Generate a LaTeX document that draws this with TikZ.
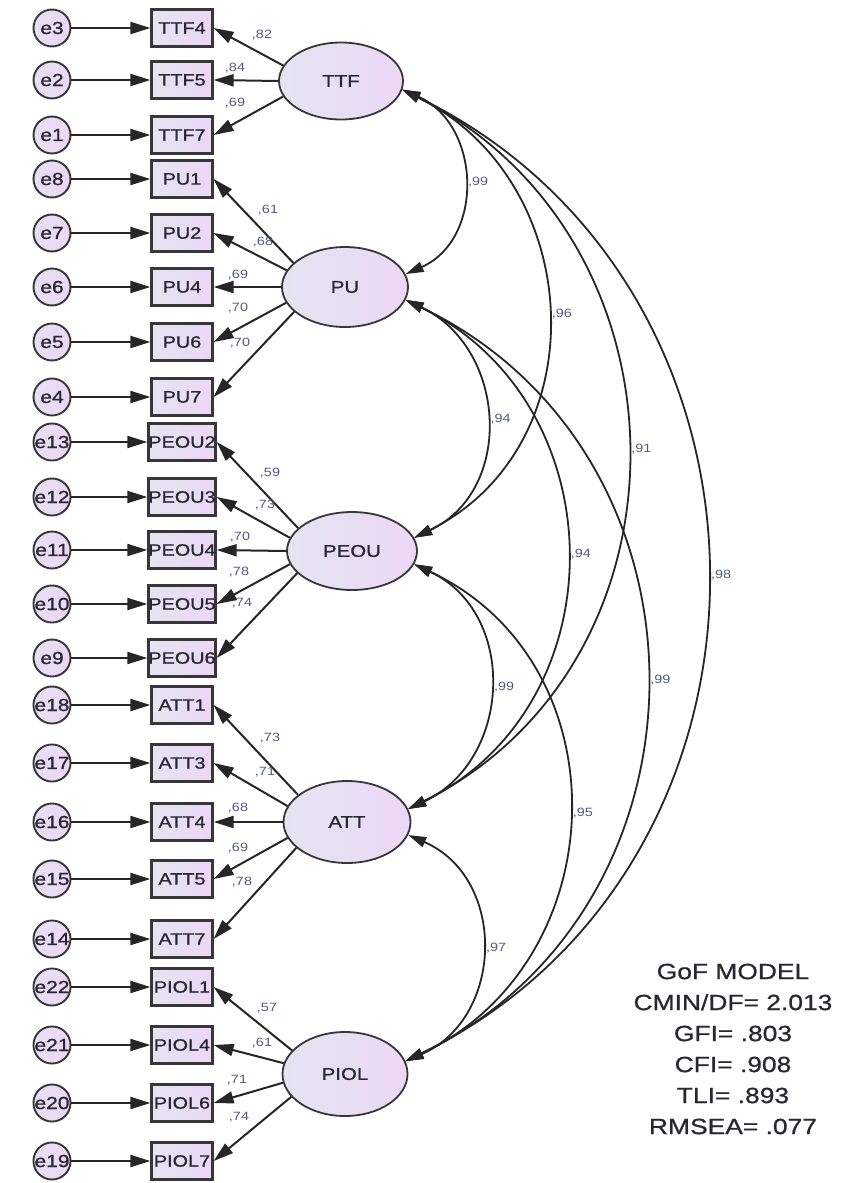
\documentclass[tikz,border=0pt]{standalone}
\usepackage{fontspec}
\setmainfont{Liberation Sans}[FakeStretch=1.2, FakeBold=0.9]
\newfontfamily\lblfont{Liberation Sans}[FakeStretch=1.2]
\usetikzlibrary{arrows.meta,shapes.geometric}
\definecolor{lilac}{RGB}{236,215,246}
\definecolor{grayblue}{RGB}{228,229,240}
\definecolor{lblc}{RGB}{78,92,128}
\definecolor{txtc}{RGB}{40,40,50}
\definecolor{bord}{RGB}{55,55,55}
\newcommand\fsobs{\fontsize{16.5}{18}\selectfont}
\newcommand\fserr{\fontsize{17.5}{19}\selectfont}
\newcommand\fslat{\fontsize{17}{19}\selectfont}
\newcommand\fslbl{\lblfont\fontsize{12}{13}\selectfont}
\newcommand\fsgof{\fontsize{22}{31}\selectfont}
\tikzset{
  obs/.style={draw=bord, line width=2.2pt, rectangle, minimum width=61pt, minimum height=37pt, inner sep=0pt,
    left color=grayblue, right color=lilac, font=\fsobs, text=txtc},
  err/.style={draw=bord, line width=1.9pt, circle, minimum size=37pt, inner sep=0pt,
    left color=grayblue!60!lilac, right color=lilac, font=\fserr, text=txtc},
  lat/.style={draw=bord, line width=1.8pt, ellipse, inner sep=0pt,
    left color=grayblue, right color=lilac, font=\fslat, text=txtc},
  arr/.style={-{Triangle[length=20pt,width=12pt]}, line width=2pt, draw=black!85},
  corr/.style={{Triangle[length=18pt,width=10.5pt]}-{Triangle[length=18pt,width=10.5pt]}, line width=1.8pt, draw=black!85},
  lbl/.style={font=\fslbl, text=lblc, inner sep=1pt},
}
\begin{document}
\begin{tikzpicture}[x=1pt,y=-1pt]
\useasboundingbox (0,0) rectangle (846,1183);
% latent variables
\node[lat, minimum width=124pt, minimum height=77pt] (TTF) at (341,81) {TTF};
\node[lat, minimum width=126pt, minimum height=80pt] (PU) at (345,287) {PU};
\node[lat, minimum width=130pt, minimum height=78pt] (PEOU) at (352,551) {PEOU};
\node[lat, minimum width=127pt, minimum height=82pt] (ATT) at (347,822) {ATT};
\node[lat, minimum width=125pt, minimum height=84pt] (PIOL) at (345,1074) {PIOL};
% observed variables and errors
\foreach \n/\y/\e in {TTF4/28/e3, TTF5/80/e2, TTF7/135/e1,
  PU1/179/e8, PU2/233/e7, PU4/287/e6, PU6/342/e5, PU7/397/e4,
  PEOU2/442/e13, PEOU3/497/e12, PEOU4/550/e11, PEOU5/604/e10, PEOU6/658/e9,
  ATT1/705/e18, ATT3/763/e17, ATT4/822/e16, ATT5/879/e15, ATT7/939/e14,
  PIOL1/987/e22, PIOL4/1045/e21, PIOL6/1103/e20, PIOL7/1161/e19}{
  \node[obs] (\n) at (182,\y) {\n};
  \node[err] (\e) at (52,\y) {\e};
  \draw[arr] (\e) -- (\n);
}
% loadings
\foreach \f/\a/\o/\v/\lx/\ly in {TTF/165/TTF4/82/262/35, TTF/180/TTF5/84/235/68, TTF/195/TTF7/69/235/103,
  PU/155/PU1/61/268/210, PU/164/PU2/68/263/242, PU/180/PU4/69/238/275, PU/195/PU6/70/238/308, PU/206/PU7/70/240/343,
  PEOU/157/PEOU2/59/270/473, PEOU/168/PEOU3/73/265/505, PEOU/180/PEOU4/70/240/537, PEOU/192/PEOU5/78/239/572, PEOU/202/PEOU6/74/242/603,
  ATT/151/ATT1/73/270/738, ATT/165/ATT3/71/265/772, ATT/180/ATT4/68/238/808, ATT/195/ATT5/69/238/848, ATT/207/ATT7/78/242/882,
  PIOL/156/PIOL1/57/267/1008, PIOL/170/PIOL4/61/262/1043, PIOL/188/PIOL6/71/237/1080, PIOL/203/PIOL7/74/239/1117}{
  \draw[arr] (\f.\a) -- (\o.east);
  \node[lbl] (l\o) at (\lx,\ly) {,\v};
}
% correlations
\draw[corr] (TTF.-8) .. controls +(79,35) and +(79,-35) .. (PU.12) node[lbl, pos=.5, right=3pt] (c1) {,99};
\draw[corr] (TTF.-8) .. controls +(185,92) and +(185,-92) .. (PEOU.12) node[lbl, pos=.5, right=3pt] (c2) {,96};
\draw[corr] (TTF.-8) .. controls +(295,148) and +(295,-148) .. (ATT.12) node[lbl, pos=.5, right=3pt] (c3) {,91};
\draw[corr] (TTF.-8) .. controls +(403,197) and +(403,-197) .. (PIOL.12) node[lbl, pos=.5, right=3pt] (c4) {,98};
\draw[corr] (PU.-12) .. controls +(101,48) and +(101,-48) .. (PEOU.12) node[lbl, pos=.5, right=3pt] (c5) {,94};
\draw[corr] (PU.-12) .. controls +(212,104) and +(212,-104) .. (ATT.12) node[lbl, pos=.5, right=3pt] (c6) {,94};
\draw[corr] (PU.-12) .. controls +(320,154) and +(320,-154) .. (PIOL.12) node[lbl, pos=.5, right=3pt] (c7) {,99};
\draw[corr] (PEOU.-12) .. controls +(104,49) and +(104,-49) .. (ATT.12) node[lbl, pos=.5, right=3pt] (c8) {,99};
\draw[corr] (PEOU.-12) .. controls +(211,99) and +(211,-99) .. (PIOL.12) node[lbl, pos=.5, right=3pt] (c9) {,95};
\draw[corr] (ATT.-12) .. controls +(99,43) and +(99,-43) .. (PIOL.12) node[lbl, pos=.5, right=3pt] (c10) {,97};
% GoF
\node[align=center, font=\fsgof, text=txtc, inner sep=0pt] (gof) at (733,1049)
  {GoF MODEL\\CMIN/DF= 2.013\\GFI= .803\\CFI= .908\\TLI= .893\\RMSEA= .077};
\end{tikzpicture}
\end{document}
